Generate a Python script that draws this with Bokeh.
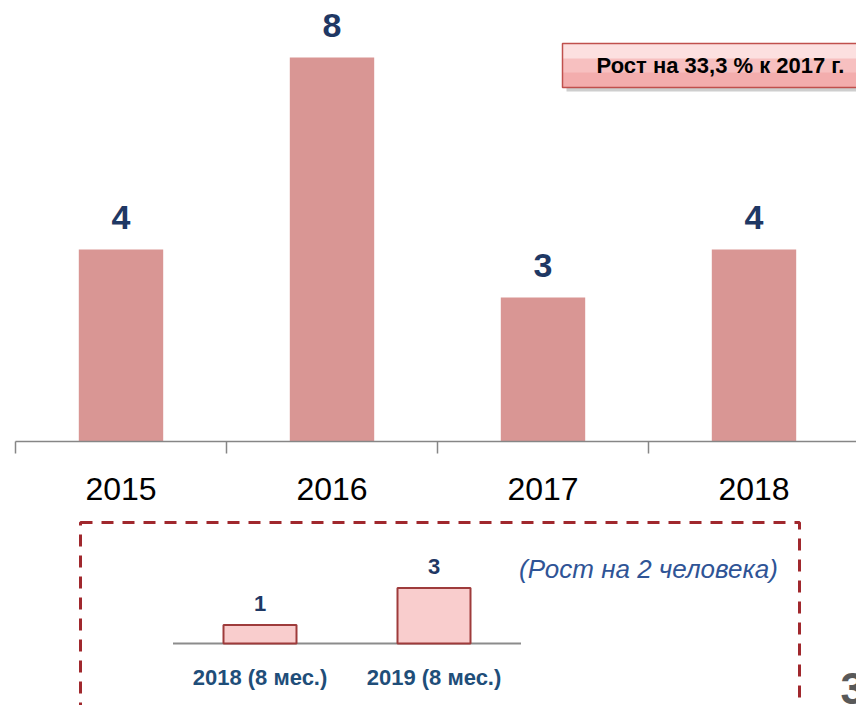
from bokeh.plotting import figure
from bokeh.models import Range1d, FixedTicker, BoxAnnotation, Label
from bokeh.layouts import column
from bokeh.embed import file_html
from bokeh.resources import INLINE
from bokeh.core.properties import value

# ---------------- data ----------------
years = ["2015", "2016", "2017", "2018"]
counts = [4, 8, 3, 4]
inset_periods = ["2018 (8 мес.)", "2019 (8 мес.)"]
inset_counts = [1, 3]
headline = "Рост на 33,3 % к 2017 г."
inset_note = "(Рост на 2 человека)"
page_number = "3"

FONT = "Liberation Sans"
NAVY = "#1F3864"

# ---------------- main chart ----------------
W = 856
H1 = 520
H2 = 185
PX_X = 211.0   # pixels per category
PX_Y = 48.0    # pixels per unit
LEFT_B = 15
BOTTOM_B = 79
frame_w = W - LEFT_B
frame_h = H1 - BOTTOM_B

def mx(px):  # page px -> main data x
    return (px - LEFT_B) / PX_X

def my(py):  # page py -> main data y
    return (frame_h - py) / PX_Y

p = figure(width=W, height=H1, output_backend="svg", toolbar_location=None,
           x_range=Range1d(0, frame_w / PX_X), y_range=Range1d(0, frame_h / PX_Y),
           min_border_left=LEFT_B, min_border_right=0, min_border_top=0,
           min_border_bottom=BOTTOM_B, y_axis_location=None)
p.grid.visible = False
p.outline_line_color = None
p.background_fill_color = "white"
p.border_fill_color = "white"

xs = [i + 0.5 for i in range(len(years))]
p.vbar(x=xs, top=counts, bottom=0, width=0.4, fill_color="#D99694", line_color=None)
p.text(x=xs, y=counts, text=[str(c) for c in counts], text_align="center",
       text_baseline="middle", y_offset=-32, text_font=value(FONT),
       text_font_style="bold", text_font_size="34px", text_color=NAVY)

ax = p.xaxis[0]
ax.ticker = FixedTicker(ticks=xs, minor_ticks=list(range(len(years) + 1)))
ax.major_label_overrides = {x: y for x, y in zip(xs, years)}
ax.major_tick_line_color = None
ax.major_tick_out = 0
ax.major_tick_in = 0
ax.minor_tick_out = 12
ax.minor_tick_in = 0
ax.minor_tick_line_color = "#868686"
ax.minor_tick_line_width = 1.5
ax.axis_line_color = "#868686"
ax.axis_line_width = 1.5
ax.major_label_standoff = 24
ax.major_label_text_font = FONT
ax.major_label_text_font_size = "32px"
ax.major_label_text_color = "black"

# headline box (shadow, body, gradient-like bands, border)
p.add_layout(BoxAnnotation(left=mx(566), right=mx(870), top=my(47), bottom=my(91),
                           fill_color="#A6A6A6", fill_alpha=0.55, line_alpha=0))
p.add_layout(BoxAnnotation(left=mx(562), right=mx(866), top=my(43), bottom=my(87),
                           fill_color="#F7C0C0", fill_alpha=1.0, line_alpha=0))
p.add_layout(BoxAnnotation(left=mx(562), right=mx(866), top=my(43), bottom=my(58),
                           fill_color="#FCE0E0", fill_alpha=1.0, line_alpha=0))
p.add_layout(BoxAnnotation(left=mx(562), right=mx(866), top=my(72), bottom=my(87),
                           fill_color="#F3ADAD", fill_alpha=1.0, line_alpha=0))
p.add_layout(BoxAnnotation(left=mx(562), right=mx(866), top=my(43), bottom=my(87),
                           fill_alpha=0, line_color="#C0504D", line_alpha=1.0,
                           line_width=1.5))
p.add_layout(Label(x=mx(720), y=my(65), text=headline, text_align="center",
                   text_baseline="middle", text_font=FONT, text_font_style="bold",
                   text_font_size="22px", text_color="black"))

# ---------------- inset ----------------
IPX_X = 174.0
IPX_Y = 18.5
I_TOP = H1

def ix(px):
    return (px - 259.5) / IPX_X

def iy(py):
    return (643 - py) / IPX_Y

# the column aligns frames, so the inset frame also starts at LEFT_B
q = figure(width=W, height=H2, output_backend="svg", toolbar_location=None,
           x_range=Range1d(ix(LEFT_B), ix(W)), y_range=Range1d(iy(I_TOP + H2), iy(I_TOP)),
           min_border_left=LEFT_B, min_border_right=0, min_border_top=0, min_border_bottom=0,
           x_axis_location=None, y_axis_location=None)
q.grid.visible = False
q.outline_line_color = None
q.background_fill_color = "white"
q.border_fill_color = "white"

ixs = list(range(len(inset_periods)))
q.segment(x0=[-0.5], x1=[len(inset_periods) - 0.5], y0=[0], y1=[0],
          line_color="#8C8C8C", line_width=2)
q.vbar(x=ixs, top=inset_counts, bottom=0, width=73 / IPX_X,
       fill_color="#F9CDCD", line_color="#9E3B3B", line_width=2)
q.text(x=ixs, y=inset_counts, text=[str(c) for c in inset_counts], text_align="center",
       text_baseline="middle", y_offset=-22, text_font=value(FONT),
       text_font_style="bold", text_font_size="22px", text_color=NAVY)
q.text(x=ixs, y=[0] * len(ixs), text=inset_periods, text_align="center",
       text_baseline="middle", y_offset=34, text_font=value(FONT),
       text_font_style="bold", text_font_size="22px", text_color="#1F4E79")

q.add_layout(Label(x=ix(648), y=iy(568), text=inset_note, text_align="center",
                   text_baseline="middle", text_font=FONT, text_font_style="italic",
                   text_font_size="26px", text_color="#2F5496"))
q.add_layout(BoxAnnotation(left=ix(80), right=ix(799), top=iy(522), bottom=iy(760),
                           fill_alpha=0, line_color="#A0282D", line_alpha=1.0,
                           line_width=3, line_dash="12 9"))
q.add_layout(Label(x=ix(840), y=iy(688), text=page_number, text_align="left",
                   text_baseline="middle", text_font=FONT, text_font_style="bold",
                   text_font_size="44px", text_color="#595959"))

layout = column(p, q, spacing=0)
open("out.html", "w").write(file_html(layout, INLINE))
